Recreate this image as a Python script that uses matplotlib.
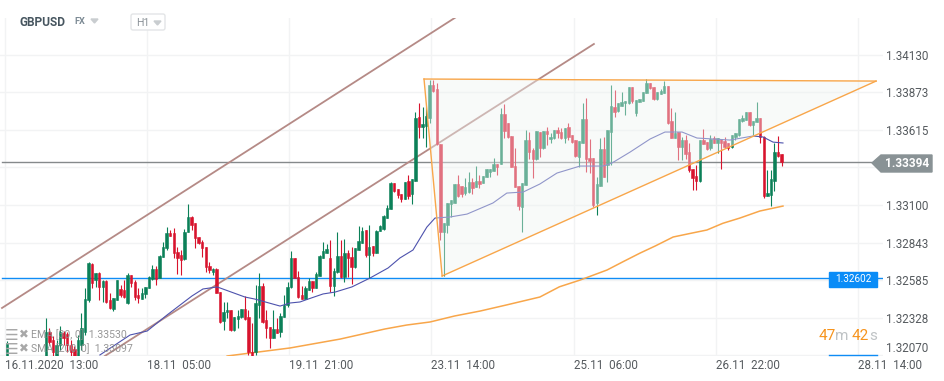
import matplotlib
matplotlib.use('Agg')
import matplotlib.pyplot as plt
from matplotlib.patches import Polygon, Rectangle, FancyBboxPatch
import numpy as np

plt.rcParams['font.family'] = ['Roboto', 'DejaVu Sans']

# GBPUSD H1 candles
opens = [
    1.32039, 1.32011, 1.32039, 1.32011, 1.32039, 1.32004, 1.32039, 1.32004, 1.32039, 1.32004,
    1.32025, 1.32025, 1.32230, 1.32175, 1.32039, 1.32141, 1.32223, 1.32217, 1.32141, 1.32114,
    1.32052, 1.32141, 1.32230, 1.32449, 1.32696, 1.32586, 1.32634, 1.32539, 1.32580, 1.32449,
    1.32388, 1.32449, 1.32525, 1.32518, 1.32429, 1.32621, 1.32573, 1.32484, 1.32456, 1.32491,
    1.32532, 1.32593, 1.32662, 1.32600, 1.32744, 1.32806, 1.32908, 1.32908, 1.32778, 1.32758,
    1.32730, 1.32915, 1.33018, 1.32977, 1.32881, 1.32847, 1.32812, 1.32682, 1.32641, 1.32662,
    1.32504, 1.32306, 1.32367, 1.32381, 1.32244, 1.32319, 1.32333, 1.32388, 1.32333, 1.32093,
    1.32093, 1.32415, 1.32545, 1.32312, 1.32265, 1.32189, 1.32251, 1.32230, 1.32333, 1.32415,
    1.32539, 1.32737, 1.32607, 1.32484, 1.32456, 1.32518, 1.32580, 1.32532, 1.32614, 1.32737,
    1.32771, 1.32737, 1.32545, 1.32641, 1.32751, 1.32607, 1.32771, 1.32744, 1.32676, 1.32792,
    1.32840, 1.32929, 1.32758, 1.32819, 1.32771, 1.32922, 1.32936, 1.33011, 1.33073, 1.33251,
    1.33210, 1.33175, 1.33141, 1.33264, 1.33175, 1.33264, 1.33703, 1.33634, 1.33641, 1.33696,
    1.33922, 1.33894, 1.33518, 1.32915, 1.32963, 1.33107, 1.33114, 1.33244, 1.33230, 1.33182,
    1.33189, 1.33257, 1.33223, 1.33264, 1.33251, 1.33292, 1.33326, 1.33333, 1.33381, 1.33381,
    1.33723, 1.33662, 1.33573, 1.33367, 1.33230, 1.33086, 1.33237, 1.33545, 1.33477, 1.33415,
    1.33600, 1.33490, 1.33607, 1.33552, 1.33559, 1.33614, 1.33600, 1.33559, 1.33634, 1.33579,
    1.33545, 1.33429, 1.33525, 1.33689, 1.33422, 1.33422, 1.33114, 1.33230, 1.33483, 1.33374,
    1.33600, 1.33771, 1.33744, 1.33778, 1.33798, 1.33798, 1.33908, 1.33730, 1.33805, 1.33812,
    1.33867, 1.33935, 1.33908, 1.33826, 1.33860, 1.33867, 1.33915, 1.33675, 1.33559, 1.33600,
    1.33497, 1.33545, 1.33463, 1.33346, 1.33298, 1.33264, 1.33545, 1.33531, 1.33490, 1.33559,
    1.33525, 1.33552, 1.33538, 1.33525, 1.33497, 1.33566, 1.33579, 1.33675, 1.33682, 1.33737,
    1.33648, 1.33668, 1.33696, 1.33566, 1.33162, 1.33168, 1.33264, 1.33463, 1.33449,
]
closes = [
    1.32155, 1.32039, 1.32011, 1.32039, 1.32004, 1.32039, 1.32011, 1.32039, 1.32011, 1.32039,
    1.32052, 1.32230, 1.32162, 1.32093, 1.32141, 1.32230, 1.32189, 1.32141, 1.32093, 1.32039,
    1.32175, 1.32258, 1.32456, 1.32703, 1.32566, 1.32634, 1.32539, 1.32580, 1.32436, 1.32395,
    1.32463, 1.32586, 1.32484, 1.32470, 1.32621, 1.32566, 1.32470, 1.32463, 1.32497, 1.32539,
    1.32607, 1.32662, 1.32593, 1.32751, 1.32812, 1.32908, 1.32888, 1.32771, 1.32737, 1.32723,
    1.32915, 1.33018, 1.32963, 1.32874, 1.32840, 1.32806, 1.32676, 1.32655, 1.32662, 1.32497,
    1.32299, 1.32367, 1.32381, 1.32244, 1.32333, 1.32340, 1.32388, 1.32319, 1.32093, 1.32052,
    1.32429, 1.32545, 1.32299, 1.32258, 1.32189, 1.32251, 1.32223, 1.32340, 1.32415, 1.32539,
    1.32737, 1.32600, 1.32470, 1.32456, 1.32532, 1.32580, 1.32532, 1.32628, 1.32751, 1.32785,
    1.32799, 1.32545, 1.32648, 1.32751, 1.32607, 1.32771, 1.32737, 1.32676, 1.32806, 1.32853,
    1.32922, 1.32758, 1.32812, 1.32771, 1.32922, 1.32956, 1.33025, 1.33079, 1.33251, 1.33196,
    1.33168, 1.33141, 1.33257, 1.33162, 1.33278, 1.33696, 1.33634, 1.33655, 1.33709, 1.33922,
    1.33881, 1.33518, 1.32915, 1.32977, 1.33114, 1.33134, 1.33244, 1.33162, 1.33175, 1.33223,
    1.33257, 1.33216, 1.33264, 1.33244, 1.33298, 1.33346, 1.33346, 1.33381, 1.33360, 1.33723,
    1.33607, 1.33566, 1.33360, 1.33223, 1.33093, 1.33251, 1.33545, 1.33463, 1.33415, 1.33607,
    1.33490, 1.33607, 1.33586, 1.33566, 1.33614, 1.33593, 1.33559, 1.33627, 1.33566, 1.33531,
    1.33436, 1.33538, 1.33689, 1.33415, 1.33401, 1.33100, 1.33244, 1.33483, 1.33292, 1.33614,
    1.33778, 1.33737, 1.33798, 1.33805, 1.33812, 1.33908, 1.33812, 1.33819, 1.33826, 1.33874,
    1.33935, 1.33901, 1.33826, 1.33874, 1.33881, 1.33915, 1.33662, 1.33559, 1.33593, 1.33497,
    1.33545, 1.33449, 1.33340, 1.33285, 1.33264, 1.33545, 1.33518, 1.33483, 1.33552, 1.33525,
    1.33559, 1.33525, 1.33497, 1.33490, 1.33579, 1.33593, 1.33689, 1.33696, 1.33737, 1.33648,
    1.33675, 1.33696, 1.33566, 1.33162, 1.33182, 1.33278, 1.33463, 1.33436, 1.33394,
]
highs = [
    1.32169, 1.32052, 1.32052, 1.32052, 1.32052, 1.32052, 1.32052, 1.32052, 1.32052, 1.32052,
    1.32052, 1.32326, 1.32258, 1.32203, 1.32175, 1.32271, 1.32237, 1.32230, 1.32175, 1.32134,
    1.32210, 1.32360, 1.32532, 1.32710, 1.32703, 1.32634, 1.32641, 1.32586, 1.32586, 1.32497,
    1.32463, 1.32586, 1.32552, 1.32586, 1.32634, 1.32621, 1.32586, 1.32532, 1.32532, 1.32539,
    1.32614, 1.32689, 1.32682, 1.32758, 1.32847, 1.32949, 1.32929, 1.32942, 1.32812, 1.32792,
    1.32936, 1.33107, 1.33025, 1.32977, 1.32881, 1.32860, 1.32812, 1.32710, 1.32669, 1.32669,
    1.32504, 1.32436, 1.32436, 1.32381, 1.32333, 1.32381, 1.32388, 1.32477, 1.32381, 1.32292,
    1.32552, 1.32634, 1.32566, 1.32381, 1.32265, 1.32381, 1.32326, 1.32360, 1.32484, 1.32573,
    1.32785, 1.32737, 1.32648, 1.32545, 1.32545, 1.32600, 1.32580, 1.32641, 1.32758, 1.32847,
    1.32833, 1.32860, 1.32669, 1.32915, 1.32860, 1.32867, 1.32792, 1.32812, 1.32806, 1.32956,
    1.32949, 1.32929, 1.32963, 1.32819, 1.32929, 1.32963, 1.33032, 1.33100, 1.33257, 1.33251,
    1.33210, 1.33175, 1.33257, 1.33305, 1.33278, 1.33737, 1.33798, 1.33771, 1.33771, 1.33956,
    1.33956, 1.33935, 1.33518, 1.32977, 1.33114, 1.33134, 1.33244, 1.33305, 1.33230, 1.33285,
    1.33326, 1.33285, 1.33367, 1.33305, 1.33298, 1.33346, 1.33346, 1.33422, 1.33381, 1.33764,
    1.33792, 1.33662, 1.33573, 1.33490, 1.33230, 1.33251, 1.33614, 1.33600, 1.33490, 1.33607,
    1.33600, 1.33607, 1.33634, 1.33593, 1.33614, 1.33634, 1.33627, 1.33627, 1.33662, 1.33579,
    1.33545, 1.33538, 1.33798, 1.33833, 1.33552, 1.33422, 1.33292, 1.33559, 1.33566, 1.33614,
    1.33922, 1.33888, 1.33798, 1.33874, 1.33812, 1.33908, 1.33908, 1.33819, 1.33826, 1.33874,
    1.33963, 1.33935, 1.33908, 1.33874, 1.33894, 1.33949, 1.33915, 1.33764, 1.33737, 1.33600,
    1.33566, 1.33579, 1.33525, 1.33346, 1.33374, 1.33545, 1.33620, 1.33531, 1.33579, 1.33573,
    1.33559, 1.33552, 1.33566, 1.33525, 1.33579, 1.33593, 1.33689, 1.33716, 1.33737, 1.33737,
    1.33675, 1.33805, 1.33696, 1.33573, 1.33340, 1.33340, 1.33525, 1.33573, 1.33449,
]
lows = [
    1.32004, 1.31984, 1.31998, 1.31984, 1.31984, 1.31984, 1.31998, 1.31984, 1.31998, 1.31984,
    1.32004, 1.32004, 1.32141, 1.32052, 1.32025, 1.32107, 1.32141, 1.32093, 1.32052, 1.32004,
    1.32004, 1.32107, 1.32210, 1.32436, 1.32532, 1.32539, 1.32449, 1.32436, 1.32429, 1.32388,
    1.32374, 1.32449, 1.32470, 1.32463, 1.32422, 1.32539, 1.32449, 1.32429, 1.32456, 1.32463,
    1.32532, 1.32586, 1.32552, 1.32600, 1.32744, 1.32792, 1.32888, 1.32737, 1.32628, 1.32621,
    1.32723, 1.32915, 1.32929, 1.32806, 1.32833, 1.32744, 1.32641, 1.32634, 1.32621, 1.32497,
    1.32292, 1.32244, 1.32326, 1.32237, 1.32237, 1.32258, 1.32326, 1.32312, 1.32073, 1.32052,
    1.32073, 1.32326, 1.32292, 1.32189, 1.32121, 1.32189, 1.32223, 1.32196, 1.32333, 1.32402,
    1.32532, 1.32600, 1.32463, 1.32456, 1.32456, 1.32518, 1.32504, 1.32532, 1.32614, 1.32737,
    1.32771, 1.32504, 1.32477, 1.32634, 1.32600, 1.32573, 1.32607, 1.32559, 1.32669, 1.32792,
    1.32840, 1.32744, 1.32600, 1.32751, 1.32771, 1.32922, 1.32929, 1.33011, 1.33073, 1.33189,
    1.33148, 1.33121, 1.33141, 1.33141, 1.33107, 1.33264, 1.33559, 1.33559, 1.33497, 1.33662,
    1.33874, 1.33511, 1.32860, 1.32614, 1.32908, 1.33018, 1.33114, 1.33155, 1.33155, 1.33168,
    1.33182, 1.33175, 1.33223, 1.33216, 1.33251, 1.33292, 1.33292, 1.33333, 1.33305, 1.33381,
    1.33559, 1.33559, 1.33360, 1.33223, 1.33066, 1.32915, 1.33237, 1.33415, 1.33285, 1.33408,
    1.33429, 1.33483, 1.33511, 1.33525, 1.33552, 1.33559, 1.33552, 1.33525, 1.33545, 1.33525,
    1.33429, 1.33360, 1.33525, 1.33326, 1.33319, 1.33086, 1.33032, 1.33230, 1.33292, 1.33257,
    1.33374, 1.33703, 1.33737, 1.33778, 1.33716, 1.33792, 1.33798, 1.33709, 1.33805, 1.33812,
    1.33867, 1.33894, 1.33819, 1.33819, 1.33860, 1.33867, 1.33655, 1.33559, 1.33559, 1.33408,
    1.33408, 1.33415, 1.33326, 1.33203, 1.33203, 1.33257, 1.33518, 1.33477, 1.33477, 1.33525,
    1.33456, 1.33346, 1.33490, 1.33477, 1.33490, 1.33545, 1.33573, 1.33668, 1.33682, 1.33641,
    1.33579, 1.33668, 1.33525, 1.33148, 1.33162, 1.33093, 1.33196, 1.33429, 1.33367,
]

# moving averages, sampled along the lines
ema_idx = [26.7, 35.2, 40.0, 45.6, 52.6, 55.7, 59.7, 67.5, 70.3, 77.4, 80.2, 83.0, 85.3, 89.5,
           92.9, 97.6, 102.7, 107.8, 111.1, 114.8, 118.7, 121.0, 125.2, 130.0, 137.3, 141.2,
           145.8, 150.5, 155.3, 161.8, 168.3, 170.8, 175.9, 181.5, 185.7, 190.5, 194.7, 204.0,
           210.5, 213.3, 216.1, 218.9]
ema_vals = [1.32073, 1.32210, 1.32237, 1.32347, 1.32477, 1.32525, 1.32539, 1.32470, 1.32456,
            1.32408, 1.32429, 1.32436, 1.32456, 1.32491, 1.32504, 1.32539, 1.32600, 1.32669,
            1.32737, 1.32792, 1.32949, 1.33011, 1.33018, 1.33038, 1.33114, 1.33182, 1.33189,
            1.33244, 1.33319, 1.33367, 1.33367, 1.33388, 1.33463, 1.33552, 1.33600, 1.33600,
            1.33559, 1.33545, 1.33573, 1.33566, 1.33531, 1.33525]
sma_idx = [62.5, 68.9, 80.2, 94.3, 106.9, 113.0, 119.6, 126.5, 133.7, 141.0, 150.5, 156.0, 161.8,
           169.4, 174.0, 178.7, 183.0, 188.0, 192.7, 197.5, 202.0, 206.8, 212.4, 218.9]
sma_vals = [1.32066, 1.32086, 1.32121, 1.32182, 1.32251, 1.32278, 1.32299, 1.32340, 1.32374,
            1.32415, 1.32470, 1.32540, 1.32586, 1.32655, 1.32713, 1.32771, 1.32820, 1.32881,
            1.32905, 1.32929, 1.32975, 1.33011, 1.33059, 1.33093]

# drawn trend lines (candle index, price)
channel1_idx = [-0.84, 126.9]
channel1_vals = [1.32395, 1.34387]
channel2_idx = [28.1, 165.7]
channel2_vals = [1.32066, 1.34203]
triangle_idx = [117.9, 245.1, 123.0]
triangle_vals = [1.33963, 1.33949, 1.32614]

last_price = 1.33394
level_price = 1.32602

price_ticks = [1.34130, 1.33873, 1.33615, 1.33358, 1.33100, 1.32843, 1.32585, 1.32328, 1.32070]
price_labels = ['1.34130', '1.33873', '1.33615', '', '1.33100', '1.32843', '1.32585', '1.32328', '1.32070']
time_ticks = [0, 40, 80, 120, 160, 200, 240]
time_labels = ['16.11.2020  13:00', '18.11  05:00', '19.11  21:00', '23.11  14:00',
               '25.11  06:00', '26.11  22:00', '28.11  14:00']

W, H = 945, 381
BULL = '#0b8058'
BEAR = '#d8132d'
ORANGE = '#f8a64a'

fig = plt.figure(figsize=(W / 100, H / 100), dpi=100)
# plot area runs from x=0..883 and y=18..356 in pixels
ax = fig.add_axes([0, 1 - 356 / H, 883 / W, 338 / H])
ax.set_xlim(-5 / 3.554, 878 / 3.554)
ax.set_ylim(1.32066, 1.34381)
for s in ax.spines.values():
    s.set_visible(False)
ax.set_facecolor('white')

ax.set_axisbelow(True)
ax.grid(True, color='#f2f3f4', lw=1)
ax.yaxis.tick_right()
ax.set_yticks(price_ticks)
ax.set_yticklabels(price_labels, fontsize=8.4, color='#555a5e')
ax.set_xticks(time_ticks)
ax.set_xticklabels(time_labels, fontsize=8.4, color='#555a5e', ha='left')
ax.tick_params(length=0, axis='y', pad=2)
ax.tick_params(length=0, axis='x', pad=2)
ax.get_yticklabels()[-1].set_verticalalignment('bottom')

xs = np.arange(len(opens)) + 0.5
o = np.array(opens)
c = np.array(closes)
colors = [BULL if cc >= oo else BEAR for oo, cc in zip(o, c)]

ax.axhline(level_price, color='#0f8cf5', lw=1.0, zorder=1, xmin=2 / 883)
ax.axhline(last_price, color='#85898b', lw=1.0, zorder=1, xmin=2 / 883, xmax=872 / 883)
ax.plot(channel1_idx, channel1_vals, color='#b58a86', lw=1.3, zorder=2)
ax.plot(channel2_idx, channel2_vals, color='#b58a86', lw=1.3, zorder=2)
ax.plot(sma_idx, sma_vals, color=ORANGE, lw=1.1, zorder=2)

ax.vlines(xs, lows, highs, colors=colors, lw=0.8, zorder=3)
ax.bar(xs, np.abs(c - o), bottom=np.minimum(o, c), width=0.68, color=colors,
       edgecolor=colors, lw=0.4, zorder=3)
ax.plot(ema_idx, ema_vals, color='#4d52ad', lw=0.8, zorder=4)

# the triangle sits over everything, so the candles inside look washed out
tri = list(zip(triangle_idx, triangle_vals))
ax.add_patch(Polygon(tri, closed=True, facecolor='#eff4f2', alpha=0.42, edgecolor='none', zorder=5))
ax.plot([tri[0][0], tri[1][0]], [tri[0][1], tri[1][1]], color=ORANGE, lw=1.0, zorder=6)
ax.plot([tri[0][0], tri[2][0]], [tri[0][1], tri[2][1]], color=ORANGE, lw=1.0, zorder=6)
ax.plot([tri[2][0], tri[1][0]], [tri[2][1], tri[1][1]], color=ORANGE, lw=1.0, zorder=6)


# overlay in pixel coordinates (header, badges, timer, indicator legend)
over = fig.add_axes([0, 0, 1, 1], facecolor='none')
over.set_xlim(0, W)
over.set_ylim(H, 0)
over.axis('off')

over.text(20, 22, 'GBPUSD', fontsize=8.6, fontweight='bold', color='#46555f', va='center')
over.text(74, 22, 'FX', fontsize=6.6, fontweight='bold', color='#7d8b95', va='center')
over.add_patch(Polygon([(91, 19), (98, 19), (94.5, 23)], color='#c9cdd0'))
over.add_patch(FancyBboxPatch((131, 14), 34, 16, boxstyle='round,pad=0,rounding_size=2',
                              fc='white', ec='#e3e5e7', lw=1))
over.text(136, 22.5, 'H1', fontsize=7.6, color='#8b9298', va='center')
over.add_patch(Polygon([(154, 21), (161, 21), (157.5, 25)], color='#c9cdd0'))

# last price badge
over.add_patch(Polygon([(872, 163), (881, 155), (932, 155), (932, 172), (881, 172)],
                       color='#899295'))
over.text(885, 163.5, '1.33394', fontsize=8.6, fontweight='bold', color='white', va='center')

# level badge and timer
over.add_patch(Rectangle((829, 272), 48, 15, color='#0a8cf7'))
over.text(853, 279, '1.32602', fontsize=7.2, color='white', ha='center', va='center')
over.plot([829, 877], [355, 355], color='#0f8cf5', lw=1)
over.text(819, 336, '47', fontsize=11, color='#f7941d', va='center')
over.text(835, 336, 'm', fontsize=11, color='#bfc3c5', va='center')
over.text(852, 336, '42', fontsize=11, color='#f7941d', va='center')
over.text(869, 336, 's', fontsize=11, color='#bfc3c5', va='center')

# indicator legend
for y, label in [(335, 'EMA [30, 0]  1.33530'), (349, 'SMA [200, 0]  1.33097')]:
    over.text(5, y, '\u2630', fontsize=11, color='#a8a8a8', va='center', family='DejaVu Sans')
    over.text(19, y, '\u2716', fontsize=8.5, color='#a8a8a8', va='center', family='DejaVu Sans')
    over.text(31, y, label, fontsize=7.6, color='#8c8c8c', alpha=0.9, va='center')

fig.savefig('out.png', dpi=100)
